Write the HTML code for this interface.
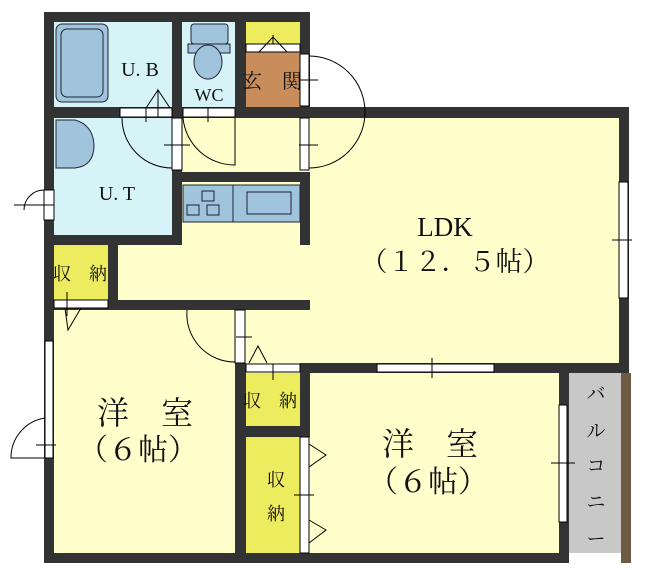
<!DOCTYPE html>
<html><head><meta charset="utf-8"><style>
html,body{margin:0;padding:0;background:#fff;}
svg{display:block;}
text{font-family:"Liberation Serif","Noto Serif CJK JP",serif;fill:#111;}
</style></head><body>
<svg width="654" height="570" viewBox="0 0 654 570" xmlns="http://www.w3.org/2000/svg">
<rect x="54" y="22" width="118" height="86" fill="#d6f3f8"/>
<rect x="182" y="22" width="53" height="86" fill="#d6f3f8"/>
<rect x="54" y="118" width="118" height="117" fill="#d6f3f8"/>
<rect x="246" y="22" width="54" height="22" fill="#ecec5e"/>
<rect x="246" y="52" width="54" height="56" fill="#c98d5b"/>
<rect x="246" y="107" width="54" height="11" fill="#9a6a3c"/>
<rect x="182" y="118" width="440" height="54" fill="#ffffcc"/>
<rect x="310" y="118" width="310" height="245" fill="#ffffcc"/>
<rect x="182" y="182" width="130" height="63" fill="#ffffcc"/>
<rect x="118" y="245" width="200" height="55" fill="#ffffcc"/>
<rect x="54" y="310" width="256" height="243" fill="#ffffcc"/>
<rect x="310" y="373" width="250" height="180" fill="#ffffcc"/>
<rect x="54" y="245" width="54" height="55" fill="#ecec5e"/>
<rect x="246" y="373" width="54" height="53" fill="#ecec5e"/>
<rect x="246" y="437" width="54" height="116" fill="#ecec5e"/>
<rect x="569" y="373" width="52" height="180" fill="#c8c8c8"/>
<rect x="621" y="373" width="10" height="190" fill="#6e5a43"/>
<g fill="#333">
<rect x="44" y="12" width="266" height="10"/>
<rect x="44" y="12" width="10" height="551"/>
<rect x="44" y="553" width="525" height="10"/>
<rect x="300" y="12" width="10" height="106"/>
<rect x="172" y="22" width="10" height="223"/>
<rect x="235" y="22" width="11" height="96"/>
<rect x="54" y="107" width="246" height="11"/>
<rect x="300" y="107" width="329" height="11"/>
<rect x="619" y="107" width="10" height="266"/>
<rect x="172" y="172" width="138" height="10"/>
<rect x="300" y="172" width="10" height="73"/>
<rect x="54" y="235" width="128" height="10"/>
<rect x="108" y="245" width="10" height="60"/>
<rect x="44" y="300" width="266" height="10"/>
<rect x="235" y="363" width="11" height="200"/>
<rect x="300" y="363" width="329" height="10"/>
<rect x="300" y="363" width="10" height="74"/>
<rect x="246" y="426" width="64" height="11"/>
<rect x="559" y="373" width="10" height="190"/>
</g>
<g fill="#fff" stroke="#000" stroke-width="1">
<rect x="120" y="108" width="52" height="9"/>
<rect x="183" y="108" width="52" height="9"/>
<rect x="246" y="44" width="54" height="8"/>
<rect x="300" y="54" width="9" height="52"/>
<rect x="300" y="118" width="9" height="52"/>
<rect x="172" y="118" width="10" height="52"/>
<rect x="44" y="190" width="10" height="30"/>
<rect x="54" y="300" width="54" height="8"/>
<rect x="619" y="182" width="9" height="116"/>
<rect x="235" y="310" width="10" height="53"/>
<rect x="246" y="364" width="54" height="8"/>
<rect x="377" y="364" width="117" height="8"/>
<rect x="45" y="341" width="8" height="117"/>
<rect x="300" y="437" width="9" height="116"/>
<rect x="559" y="405" width="8" height="117"/>
</g>
<g fill="none" stroke="#000" stroke-width="1">
<path d="M122 118 A50 50 0 0 0 172 168"/>
<path d="M183 118 A52 52 0 0 0 235 165 L235 118"/>
<path d="M309 56 A56 56 0 0 1 309 168"/>
<path d="M44 190 A20 20 0 0 0 24 210"/>
<path d="M235 362 A48 48 0 0 1 187 310"/>
<path d="M45 418 A40 40 0 0 0 11 458 L45 458"/>
<path d="M158 117 L158 90 L170 108 M146 108 L158 90"/>
<path d="M273 44 L273 35 M259 52 L273 37 L287 52"/>
<path d="M65 308 L68 330 L81 308"/>
<path d="M249 363 L258 346 L267 363"/>
<path d="M309 444 L326 455 L309 467 M309 520 L326 530 L309 543"/>
<path d="M299 80 L318 80 M299 145 L318 145 M164 145 L190 145 M146 108 L146 122 M208 108 L208 122 M14 205 L54 205 M612 240 L632 240 M236 337 L252 337 M432 358 L432 378 M36 445 L56 445 M294 495 L314 495 M551 463 L575 463 M67 292 L67 316 M273 364 L273 380"/>
</g>
<g stroke="#223" stroke-width="1" fill="#9fc4dc">
<rect x="56" y="24" width="52" height="78" rx="6"/>
<rect x="61" y="29" width="42" height="68" rx="6"/>
<rect x="191" y="24" width="37" height="20" rx="3"/>
<rect x="188" y="44" width="42" height="9"/>
<ellipse cx="208" cy="62" rx="14" ry="17"/>
<path d="M56 120 L75 120 Q93 125 94 145 Q94 166 75 168 L56 168 Z"/>
<rect x="183" y="185" width="50" height="37"/>
<rect x="233" y="185" width="67" height="37"/>
<rect x="247" y="192" width="44" height="22"/>
<rect x="202" y="191" width="12" height="10"/>
<rect x="187" y="205" width="12" height="10"/>
<rect x="207" y="205" width="12" height="10"/>
</g>
<text x="140" y="76" font-size="20" text-anchor="middle">U. B</text>
<text x="209" y="101" font-size="18" text-anchor="middle">WC</text>
<text x="272" y="88" font-size="20" text-anchor="middle">玄　関</text>
<text x="117" y="200" font-size="20" text-anchor="middle">U. T</text>
<text x="445" y="236" font-size="27" text-anchor="middle">LDK</text>
<text x="455" y="271" font-size="27" text-anchor="middle">（１２．５帖）</text>
<text x="80" y="280" font-size="18" text-anchor="middle">収　納</text>
<text x="145" y="424" font-size="32" text-anchor="middle">洋　室</text>
<text x="138" y="460" font-size="30" text-anchor="middle">（６帖）</text>
<text x="270" y="407" font-size="18" text-anchor="middle">収　納</text>
<text x="276" y="486" font-size="18" text-anchor="middle">収</text>
<text x="276" y="520" font-size="18" text-anchor="middle">納</text>
<text x="430" y="455" font-size="32" text-anchor="middle">洋　室</text>
<text x="428" y="492" font-size="30" text-anchor="middle">（６帖）</text>
<g font-size="19" text-anchor="middle">
<text x="596" y="400">バ</text>
<text x="596" y="437">ル</text>
<text x="596" y="472">コ</text>
<text x="596" y="508">ニ</text>
<text x="596" y="545">ー</text>
</g>
</svg>
</body></html>
